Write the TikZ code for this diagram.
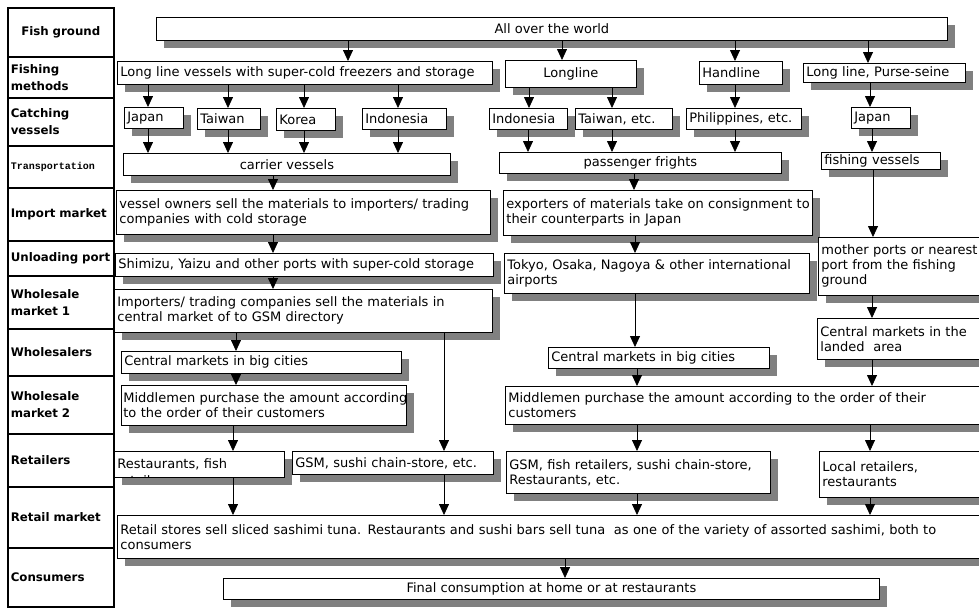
\documentclass[tikz,border=0pt]{standalone}
\usepackage{fontspec}
\setmainfont{DejaVu Sans}
\newfontfamily\monofam{Liberation Mono}
\usetikzlibrary{shadows,arrows.meta}
\definecolor{shade}{RGB}{128,128,128}
\tikzset{
  box/.style={draw=black, line width=0.8pt, fill=white, anchor=north west,
    inner xsep=3pt, inner ysep=0pt, align=left,
    font=\fontsize{13}{15}\selectfont,
    drop shadow={shadow xshift=8pt, shadow yshift=-8pt, fill=shade, opacity=1}},
  cbox/.style={box, align=center},
  cell/.style={draw=black, line width=1.6pt, anchor=north west, minimum width=106pt,
    inner xsep=3pt, text width=100pt, align=left,
    font=\bfseries\fontsize{11.8}{17}\selectfont},
  bodytext/.style={font=\fontsize{13}{15}\selectfont, inner sep=0pt},
  arr/.style={line width=0.8pt, -{Triangle[width=10pt,length=11pt]}},
}
\begin{document}
\begin{tikzpicture}[x=1pt,y=-1pt]
\useasboundingbox (0,0) rectangle (979,608);
\clip (0,0) rectangle (979,608);
\fill[white] (0,0) rectangle (979,608);

% left column
\node[cell, minimum height=49pt, align=center] (h1) at (7,7) {Fish ground};
\node[cell, minimum height=41pt] (h2) at (7,56) {Fishing\\methods};
\node[cell, minimum height=48pt] (h3) at (7,97) {Catching\\vessels};
\node[cell, minimum height=42pt, font=\monofam\bfseries\fontsize{10}{12}\selectfont] (h4) at (7,145) {Transportation};
\node[cell, minimum height=53pt] (h5) at (7,187) {Import market};
\node[cell, minimum height=35pt] (h6) at (7,240) {Unloading port};
\node[cell, minimum height=53pt] (h7) at (7,275) {Wholesale\\market 1};
\node[cell, minimum height=47pt] (h8) at (7,328) {Wholesalers};
\node[cell, minimum height=58pt] (h9) at (7,375) {Wholesale\\market 2};
\node[cell, minimum height=53pt] (h10) at (7,433) {Retailers};
\node[cell, minimum height=61pt] (h11) at (7,486) {Retail market};
\node[cell, minimum height=59pt] (h12) at (7,547) {Consumers};

% fish ground / fishing methods
\node[cbox, minimum width=791pt, minimum height=23pt] (world) at (156,17) {All over the world};
\node[box, minimum width=375pt, minimum height=23pt, text width=369pt] (m1) at (117,61) {\mbox{Long line vessels with super-cold freezers and storage}};
\node[cbox, minimum width=131pt, minimum height=27pt] (m2) at (505,60) {Longline};
\node[box, minimum width=83pt, minimum height=23pt, text width=77pt] (m3) at (699,61) {Handline};
\node[box, minimum width=162pt, minimum height=19pt, text width=156pt] (m4) at (803,63) {\mbox{Long line, Purse-seine}};

% catching vessels
\node[box, minimum width=59pt, minimum height=21pt, text width=53pt] (c1) at (124,107) {Japan};
\node[box, minimum width=63pt, minimum height=21pt, text width=57pt] (c2) at (197,108) {Taiwan};
\node[box, minimum width=59pt, minimum height=22pt, text width=53pt] (c3) at (276,108) {Korea};
\node[box, minimum width=84pt, minimum height=21pt, text width=78pt] (c4) at (362,108) {Indonesia};
\node[box, minimum width=78pt, minimum height=21pt, text width=72pt] (c5) at (489,108) {Indonesia};
\node[box, minimum width=97pt, minimum height=21pt, text width=91pt] (c6) at (575,108) {\mbox{Taiwan, etc.}};
\node[box, minimum width=115pt, minimum height=21pt, text width=109pt] (c7) at (686,108) {\mbox{Philippines, etc.}};
\node[box, minimum width=59pt, minimum height=21pt, text width=53pt] (c8) at (851,107) {Japan};

% transportation
\node[cbox, minimum width=327pt, minimum height=22pt] (t1) at (123,153) {carrier vessels};
\node[cbox, minimum width=282pt, minimum height=21pt] (t2) at (499,152) {passenger frights};
\node[box, minimum width=119pt, minimum height=17pt, text width=113pt] (t3) at (821,152) {\mbox{fishing vessels}};

% import market
\node[box, minimum width=374pt, minimum height=44pt, text width=368pt] (i1) at (116,190) {\mbox{vessel owners sell the materials to importers/ trading}\\companies with cold storage};
\node[box, minimum width=309pt, minimum height=45pt, text width=303pt] (i2) at (503,190) {\mbox{exporters of materials take on consignment to}\\their counterparts in Japan};
\node[box, minimum width=172pt, minimum height=58pt, text width=166pt] (i3) at (818,237) {mother ports or nearest\\port from the fishing\\ground};

% unloading port
\node[box, minimum width=378pt, minimum height=23pt, text width=372pt] (u1) at (115,253) {\mbox{Shimizu, Yaizu and other ports with super-cold storage}};
\node[box, minimum width=305pt, minimum height=40pt, text width=299pt] (u2) at (504,253) {\mbox{Tokyo, Osaka, Nagoya \& other international}\\airports};

% wholesale market 1
\node[box, minimum width=378pt, minimum height=43pt, text width=372pt] (w1) at (114,289) {\mbox{Importers/ trading companies sell the materials in}\\central market of to GSM directory};
\node[box, minimum width=173pt, minimum height=41pt, text width=167pt] (w3) at (817,318) {Central markets in the\\landed\ \ area};

% wholesalers
\node[box, minimum width=280pt, minimum height=22pt, text width=274pt] (s1) at (121,351) {Central markets in big cities};
\node[box, minimum width=221pt, minimum height=21pt, text width=215pt] (s2) at (548,347) {\mbox{Central markets in big cities}};

% wholesale market 2
\node[box, minimum width=285pt, minimum height=40pt, text width=281pt, inner xsep=2pt] (mm1) at (121,385) {\mbox{Middlemen purchase the amount according}\\to the order of their customers};
\node[box, minimum width=485pt, minimum height=38pt, text width=479pt] (mm2) at (505,386) {\mbox{Middlemen purchase the amount according to the order of their}\\customers};

% retailers
\node[box, minimum width=170pt, minimum height=26pt, text width=164pt] (r1) at (114,451) {Restaurants, fish};
\begin{scope}
  \clip (r1.south west) rectangle (r1.north east);
  \node[bodytext, anchor=base west] (r1b) at (117,485) {retailers};
\end{scope}
\node[box, minimum width=201pt, minimum height=23pt, text width=195pt] (r2) at (292,451) {\mbox{GSM, sushi chain-store, etc.}};
\node[box, minimum width=264pt, minimum height=42pt, text width=258pt] (r3) at (506,451) {\mbox{GSM, fish retailers, sushi chain-store,}\\Restaurants, etc.};
\node[box, minimum width=171pt, minimum height=46pt, text width=165pt] (r4) at (819,451) {Local retailers,\\restaurants};

% retail market
\node[box, minimum width=873pt, minimum height=43pt, text width=867pt] (rm) at (117,515) {\mbox{Retail stores sell sliced sashimi tuna. Restaurants and sushi bars sell tuna\ \ as one of the variety of assorted sashimi, both to}\\consumers};

% consumers
\node[cbox, minimum width=656pt, minimum height=21pt] (fc) at (223,578) {Final consumption at home or at restaurants};

% connectors
\draw[arr] (world.south -| 348,0) -- (m1.north -| 348,0);
\draw[arr] (world.south -| 562,0) -- (m2.north -| 562,0);
\draw[arr] (world.south -| 735,0) -- (m3.north -| 735,0);
\draw[arr] (world.south -| 868,0) -- (m4.north -| 868,0);

\draw[arr] (m1.south -| 148,0) -- (c1.north -| 148,0);
\draw[arr] (m1.south -| 228,0) -- (c2.north -| 228,0);
\draw[arr] (m1.south -| 304,0) -- (c3.north -| 304,0);
\draw[arr] (m1.south -| 398,0) -- (c4.north -| 398,0);
\draw[arr] (m2.south -| 529,0) -- (c5.north -| 529,0);
\draw[arr] (m2.south -| 612,0) -- (c6.north -| 612,0);
\draw[arr] (m3.south -| 735,0) -- (c7.north -| 735,0);
\draw[arr] (m4.south -| 870,0) -- (c8.north -| 870,0);

\draw[arr] (c1.south -| 148,0) -- (t1.north -| 148,0);
\draw[arr] (c2.south -| 228,0) -- (t1.north -| 228,0);
\draw[arr] (c3.south -| 304,0) -- (t1.north -| 304,0);
\draw[arr] (c4.south -| 398,0) -- (t1.north -| 398,0);
\draw[arr] (c5.south -| 528,0) -- (t2.north -| 528,0);
\draw[arr] (c6.south -| 612,0) -- (t2.north -| 612,0);
\draw[arr] (c7.south -| 735,0) -- (t2.north -| 735,0);
\draw[arr] (c8.south -| 872,0) -- (t3.north -| 872,0);

\draw[arr] (t1.south -| 273,0) -- (i1.north -| 273,0);
\draw[arr] (t2.south -| 634,0) -- (i2.north -| 634,0);
\draw[arr] (t3.south -| 873,0) -- (i3.north -| 873,0);

\draw[arr] (i1.south -| 273,0) -- (u1.north -| 273,0);
\draw[arr] (i2.south -| 635,0) -- (u2.north -| 635,0);

\draw[arr] (u1.south -| 273,0) -- (w1.north -| 273,0);
\draw[arr] (u2.south -| 635,0) -- (s2.north -| 635,0);
\draw[arr] (i3.south -| 872,0) -- (w3.north -| 872,0);

\draw[arr] (w1.south -| 236,0) -- (s1.north -| 236,0);
\draw[arr] (w1.south -| 444,0) -- (r2.north -| 444,0);

\draw[arr] (s1.south -| 236,0) -- (mm1.north -| 236,0);
\draw[arr] (s2.south -| 637,0) -- (mm2.north -| 637,0);
\draw[arr] (w3.south -| 872,0) -- (mm2.north -| 872,0);

\draw[arr] (mm1.south -| 233,0) -- (r1.north -| 233,0);
\draw[arr] (mm2.south -| 637,0) -- (r3.north -| 637,0);
\draw[arr] (mm2.south -| 870,0) -- (r4.north -| 870,0);

\draw[arr] (r1.south -| 233,0) -- (rm.north -| 233,0);
\draw[arr] (r2.south -| 444,0) -- (rm.north -| 444,0);
\draw[arr] (r3.south -| 637,0) -- (rm.north -| 637,0);
\draw[arr] (r4.south -| 870,0) -- (rm.north -| 870,0);

\draw[arr] (rm.south -| 565,0) -- (fc.north -| 565,0);
\end{tikzpicture}
\end{document}
